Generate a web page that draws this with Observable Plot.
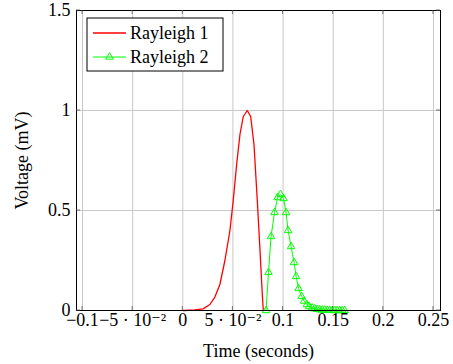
<!DOCTYPE html>
<html>
<head>
<meta charset="utf-8">
<script src="https://cdn.jsdelivr.net/npm/d3@7"></script>
<script src="https://cdn.jsdelivr.net/npm/@observablehq/plot@0.6"></script>
<style>
  html, body { margin: 0; padding: 0; background: #fff; }
  #chart { width: 453px; height: 364px; }
  svg { font-family: "Liberation Serif", "DejaVu Serif", serif; }
</style>
</head>
<body>
<div id="chart"></div>
<script>
// ---- data ----
const redX = [0, 0.002, 0.012, 0.0203, 0.027, 0.032, 0.037, 0.042, 0.047, 0.0503, 0.0537, 0.057, 0.0603, 0.0643, 0.0677, 0.071, 0.0743, 0.077, 0.0793, 0.0803];
const redY = [0, 0, 0.003, 0.008, 0.03, 0.067, 0.13, 0.25, 0.40, 0.55, 0.73, 0.88, 0.97, 1.0, 0.97, 0.83, 0.55, 0.30, 0.08, 0];

const greenX = [0.083, 0.0855, 0.088, 0.0915, 0.0945, 0.0975, 0.1005, 0.103, 0.105, 0.108, 0.111, 0.113, 0.1155, 0.1185, 0.121, 0.1237, 0.126, 0.129, 0.1315, 0.134, 0.1365, 0.139, 0.1415, 0.144, 0.1465, 0.149, 0.1515, 0.154, 0.1565, 0.159, 0.1615];
const greenY = [0, 0.19, 0.37, 0.49, 0.565, 0.58, 0.56, 0.49, 0.40, 0.32, 0.24, 0.17, 0.11, 0.07, 0.047, 0.03, 0.02, 0.013, 0.009, 0.006, 0.004, 0.003, 0.002, 0.001, 0.001, 0.0005, 0, 0, 0, 0, 0];

const xTicks = [-0.1, -0.05, 0, 0.05, 0.1, 0.15, 0.2, 0.25];
const xTickLabels = ["\u22120.1", "\u22125 \u00b7 10\u207b\u00b2", "0", "5 \u00b7 10\u207b\u00b2", "0.1", "0.15", "0.2", "0.25"];
const yTicks = [0, 0.5, 1, 1.5];
const yTickLabels = ["0", "0.5", "1", "1.5"];
const seriesNames = ["Rayleigh 1", "Rayleigh 2"];
const xLabel = "Time (seconds)";
const yLabel = "Voltage (mV)";

const red = redX.map((x, i) => ({x, y: redY[i]}));
const green = greenX.map((x, i) => ({x, y: greenY[i]}));

const fontSize = 18;
const gridColor = "#c8c8c8";
const fmtX = d => xTickLabels[xTicks.findIndex(t => Math.abs(t - d) < 1e-9)];
const fmtY = d => yTickLabels[yTicks.findIndex(t => Math.abs(t - d) < 1e-9)];

const plot = Plot.plot({
  width: 453,
  height: 364,
  marginLeft: 76,
  marginRight: 13,
  marginTop: 10,
  marginBottom: 54,
  style: {fontFamily: "Liberation Serif, DejaVu Serif, serif", fontSize: fontSize + "px", background: "#fff", color: "#000"},
  x: {domain: [-0.106, 0.257]},
  y: {domain: [0, 1.5]},
  marks: [
    Plot.gridX(xTicks, {stroke: gridColor, strokeOpacity: 1, strokeWidth: 1}),
    Plot.gridY(yTicks, {stroke: gridColor, strokeOpacity: 1, strokeWidth: 1}),
    Plot.line(red, {x: "x", y: "y", stroke: "#ff0000", strokeWidth: 1.3}),
    Plot.line(green, {x: "x", y: "y", stroke: "#00ff00", strokeWidth: 1}),
    Plot.dot(green, {x: "x", y: "y", symbol: "triangle", r: 2.8, stroke: "#00ff00", fill: "none", strokeWidth: 1}),
    Plot.frame({stroke: "#000", strokeWidth: 1}),
    Plot.axisX(xTicks, {tickFormat: fmtX, tickSize: 0, tickPadding: 3, fontSize: fontSize, label: xLabel, labelAnchor: "center", labelArrow: "none", labelOffset: 46}),
    Plot.axisY(yTicks, {tickFormat: fmtY, tickSize: 0, tickPadding: 6, fontSize: fontSize, label: yLabel, labelAnchor: "center", labelArrow: "none", labelOffset: 61})
  ]
});

document.getElementById("chart").appendChild(plot);

// inner tick marks (pgfplots style) using the library's scales
const sx = plot.scale("x"), sy = plot.scale("y");
const svg = d3.select(plot);
const [xr0, xr1] = sx.range, [yr0, yr1] = sy.range;
const tg = svg.append("g").attr("stroke", "#555").attr("stroke-width", 0.8);
xTicks.forEach(t => {
  const px = sx.apply(t);
  tg.append("line").attr("x1", px).attr("x2", px).attr("y1", yr0).attr("y2", yr0 - 4);
  tg.append("line").attr("x1", px).attr("x2", px).attr("y1", yr1).attr("y2", yr1 + 4);
});
yTicks.forEach(t => {
  const py = sy.apply(t);
  tg.append("line").attr("x1", xr0).attr("x2", xr0 + 4).attr("y1", py).attr("y2", py);
  tg.append("line").attr("x1", xr1).attr("x2", xr1 - 4).attr("y1", py).attr("y2", py);
});

// legend box in the upper-left of the plot
const lg = svg.append("g").attr("font-size", fontSize).attr("text-anchor", "start")
  .attr("font-family", "Liberation Serif, DejaVu Serif, serif");
const lx = xr0 + 11, ly = yr1 + 8, lw = 136, lh = 53;
lg.append("rect").attr("x", lx).attr("y", ly).attr("width", lw).attr("height", lh)
  .attr("fill", "#fff").attr("stroke", "#000").attr("stroke-width", 1);
const colors = ["#ff0000", "#00ff00"];
seriesNames.forEach((name, i) => {
  const cy = ly + 15 + i * 24;
  lg.append("line").attr("x1", lx + 6).attr("x2", lx + 39).attr("y1", cy).attr("y2", cy)
    .attr("stroke", colors[i]).attr("stroke-width", i === 0 ? 1.3 : 1);
  if (i === 1) {
    lg.append("path").attr("d", d3.symbol(d3.symbolTriangle, Math.PI * 2.8 * 2.8)())
      .attr("transform", `translate(${lx + 22.5},${cy})`)
      .attr("fill", "none").attr("stroke", colors[i]).attr("stroke-width", 1);
  }
  lg.append("text").attr("x", lx + 43).attr("y", cy).attr("dy", "0.35em")
    .attr("text-anchor", "start").text(name);
});
</script>
</body>
</html>
